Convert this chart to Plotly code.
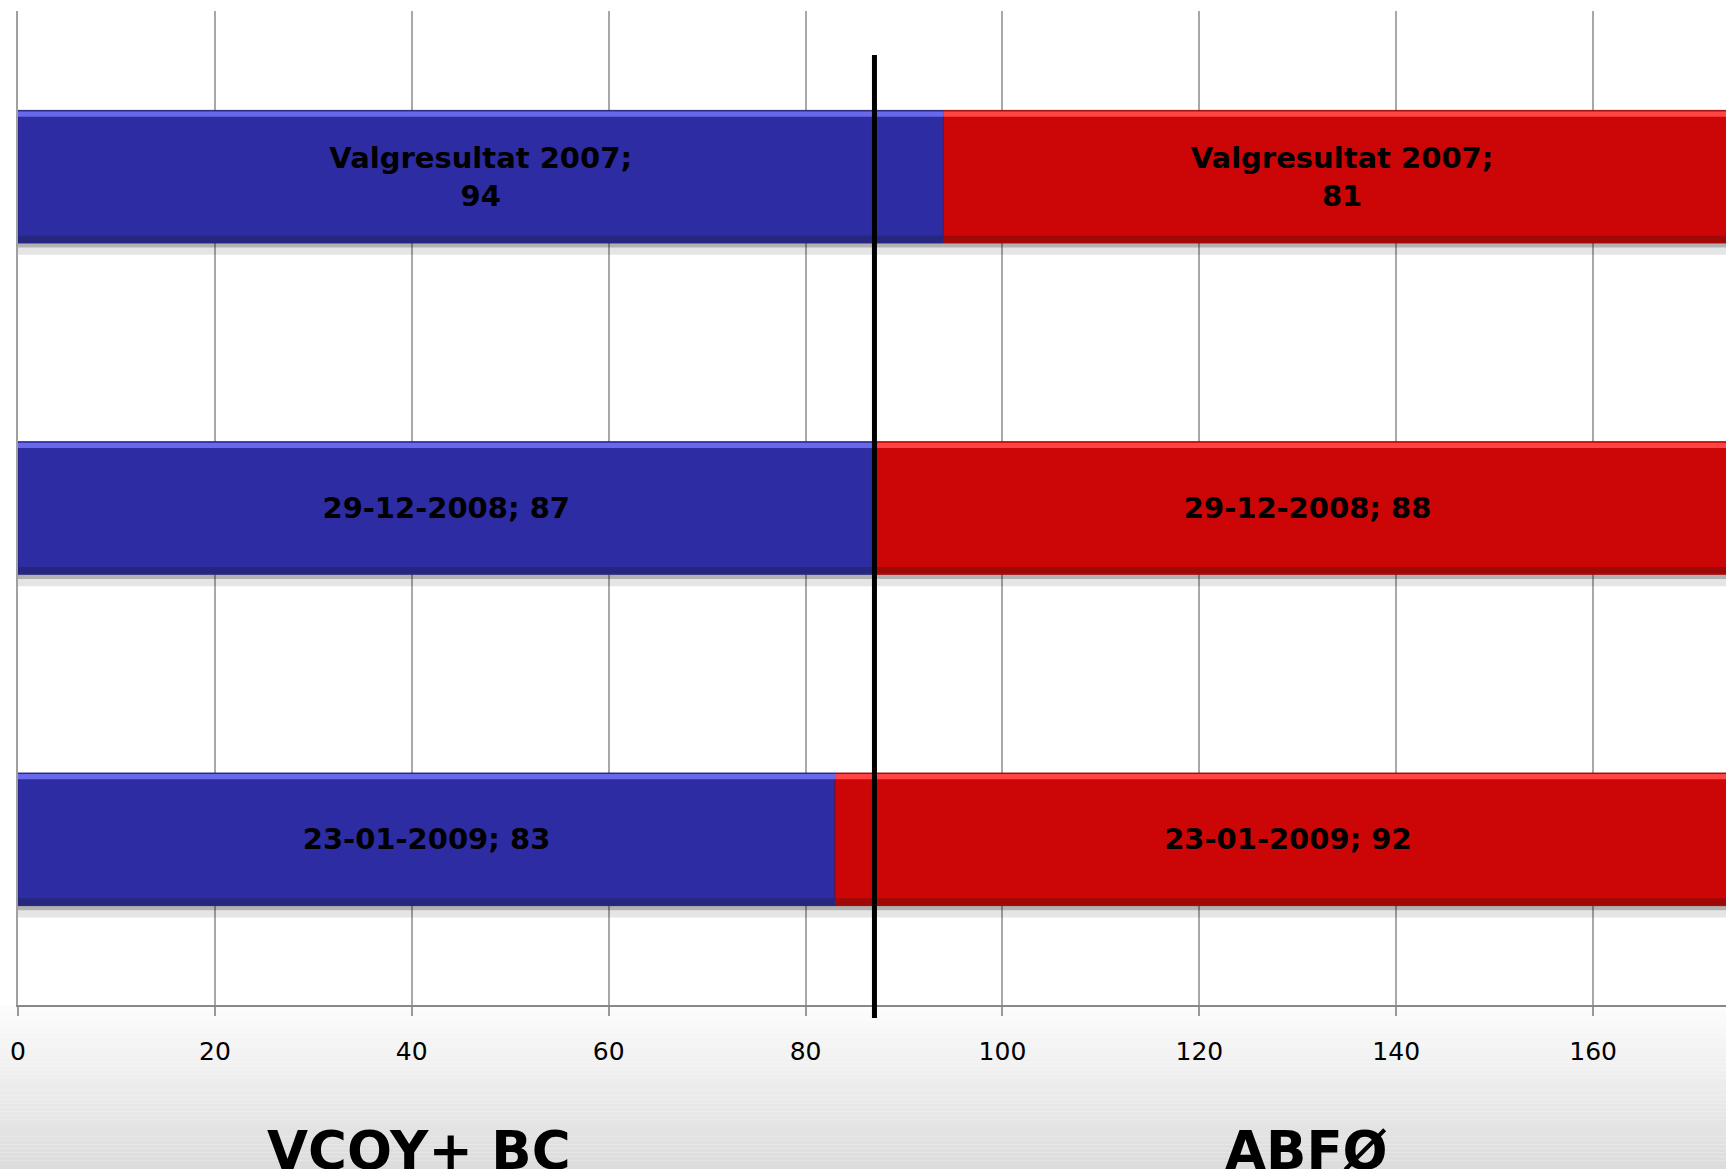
import plotly.graph_objects as go

# ---- data ----
dates = ["Valgresultat 2007", "29-12-2008", "23-01-2009"]
blue_seats = [94, 87, 83]      # VCOY+ BC
red_seats = [81, 88, 92]       # ABFØ
majority = 87
x_ticks = [0, 20, 40, 60, 80, 100, 120, 140, 160]
group_labels = ["VCOY+ BC", "ABFØ"]

BLUE = "#2d2ca2"
RED = "#cc0606"

W, H = 1726, 1169
ML, MT, MB = 17.6, 11, 164
x_max = 173.5

def label(d, v):
    return f"{d};<br>{v}" if len(d) > 12 else f"{d}; {v}"

blue_text = [label(d, v) for d, v in zip(dates, blue_seats)]
red_text = [label(d, v) for d, v in zip(dates, red_seats)]
totals = [b + r for b, r in zip(blue_seats, red_seats)]

fig = go.Figure()

txtfont = dict(family="DejaVu Sans", size=29, color="black", weight="bold")

# shadows under bars
fig.add_trace(go.Bar(y=dates, x=totals, base=0, orientation="h", offset=0.2, width=0.014,
                     marker=dict(color="rgba(0,0,0,0.30)", line=dict(width=0)), hoverinfo="skip"))
fig.add_trace(go.Bar(y=dates, x=totals, base=0, orientation="h", offset=0.214, width=0.022,
                     marker=dict(color="rgba(0,0,0,0.10)", line=dict(width=0)), hoverinfo="skip"))

# main bars
fig.add_trace(go.Bar(y=dates, x=blue_seats, base=0, orientation="h", offset=-0.2, width=0.4,
                     marker=dict(color=BLUE, line=dict(color="#22227a", width=1)),
                     text=blue_text, textposition="inside", insidetextanchor="middle",
                     textangle=0, textfont=txtfont, name="VCOY+ BC"))
fig.add_trace(go.Bar(y=dates, x=red_seats, base=blue_seats, orientation="h", offset=-0.2, width=0.4,
                     marker=dict(color=RED, line=dict(color="#9a0606", width=1)),
                     text=red_text, textposition="inside", insidetextanchor="middle",
                     textangle=0, textfont=txtfont, name="ABFØ"))

# bevel highlights / darker bottom edges
fig.add_trace(go.Bar(y=dates, x=blue_seats, base=0, orientation="h", offset=-0.197, width=0.016,
                     marker=dict(color="#6868ea", line=dict(width=0)), hoverinfo="skip"))
fig.add_trace(go.Bar(y=dates, x=red_seats, base=blue_seats, orientation="h", offset=-0.197, width=0.016,
                     marker=dict(color="#ff4444", line=dict(width=0)), hoverinfo="skip"))
fig.add_trace(go.Bar(y=dates, x=blue_seats, base=0, orientation="h", offset=0.178, width=0.02,
                     marker=dict(color="#26267e", line=dict(width=0)), hoverinfo="skip"))
fig.add_trace(go.Bar(y=dates, x=red_seats, base=blue_seats, orientation="h", offset=0.178, width=0.02,
                     marker=dict(color="#a00808", line=dict(width=0)), hoverinfo="skip"))

plot_h = H - MT - MB
def py2paper(py):
    return (H - MB - py) / plot_h

shapes = []
# gradient background below the axis
n = 40
top_px, bot_px = H - MB, H
for i in range(n):
    t = i / (n - 1)
    c = int(round(252 - (252 - 220) * t))
    shapes.append(dict(type="rect", xref="paper", yref="paper", x0=-0.02, x1=1.02,
                       y0=py2paper(top_px + (bot_px - top_px) * i / n),
                       y1=py2paper(top_px + (bot_px - top_px) * (i + 1) / n),
                       fillcolor=f"rgb({c},{c},{c})", line=dict(width=0), layer="below"))
# majority line
shapes.append(dict(type="line", xref="x", yref="paper", x0=majority, x1=majority,
                   y0=py2paper(1018), y1=py2paper(55),
                   line=dict(color="black", width=5), layer="above"))

annotations = [
    dict(text=group_labels[0], x=40.7, xref="x", y=py2paper(1150), yref="paper",
         showarrow=False, xanchor="center", yanchor="middle",
         font=dict(family="DejaVu Sans", size=53, color="black", weight="bold")),
    dict(text=group_labels[1], x=130.9, xref="x", y=py2paper(1150), yref="paper",
         showarrow=False, xanchor="center", yanchor="middle",
         font=dict(family="DejaVu Sans", size=53, color="black", weight="bold")),
]

fig.update_layout(
    width=W, height=H,
    margin=dict(l=ML, r=0, t=MT, b=MB, pad=0),
    barmode="overlay",
    showlegend=False,
    paper_bgcolor="white",
    plot_bgcolor="white",
    shapes=shapes,
    annotations=annotations,
    font=dict(family="DejaVu Sans", color="black"),
)
fig.update_xaxes(range=[0, x_max], tickvals=x_ticks, ticktext=[str(v) for v in x_ticks],
                 showgrid=True, gridcolor="#a8a8a8", gridwidth=1.5, zeroline=False,
                 showline=True, linecolor="#888888", linewidth=2,
                 ticks="outside", ticklen=9, tickcolor="#999999", tickwidth=1.5,
                 tickfont=dict(family="DejaVu Sans", size=25, color="black"),
                 ticklabelstandoff=14)
fig.update_yaxes(range=[2.5, -0.5], showticklabels=False, showgrid=False, zeroline=False,
                 showline=True, linecolor="#a0a0a0", linewidth=2, ticks="")

fig.write_html("out.html", config={"displayModeBar": False},
               post_script="document.body.style.margin='0';document.body.style.overflow='hidden';")
